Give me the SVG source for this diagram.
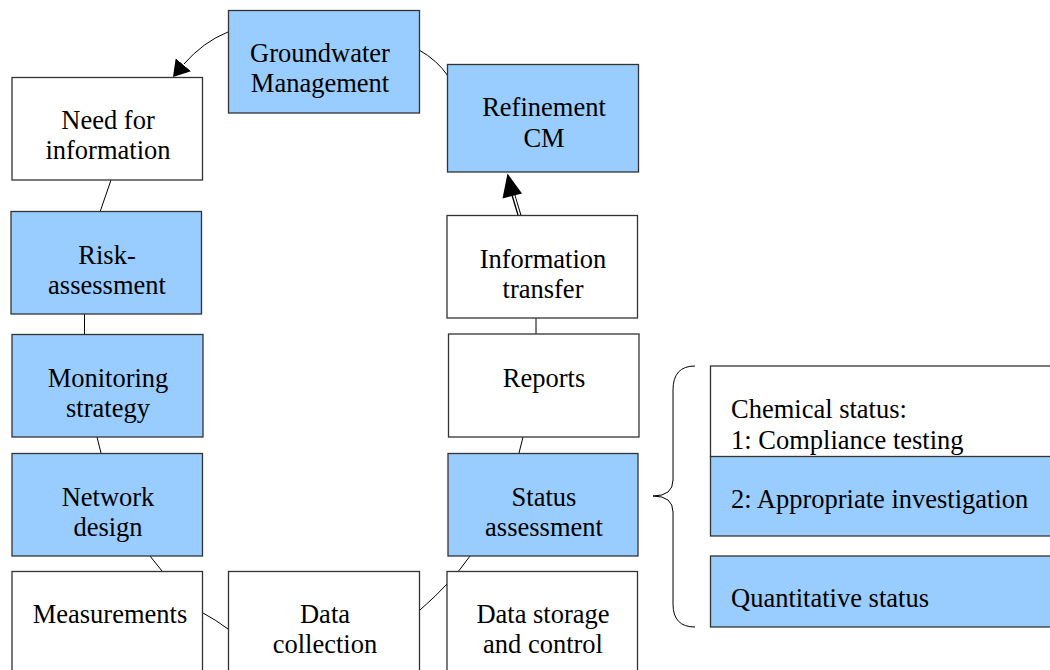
<svg xmlns="http://www.w3.org/2000/svg" width="1050" height="670" viewBox="0 0 1050 670">
<style>
.b{fill:#99CCFF;stroke:#333;stroke-width:1.3}
.w{fill:#fff;stroke:#333;stroke-width:1.3}
.t{font-family:"Liberation Serif","Times New Roman",serif;font-size:26.5px;fill:#000;text-anchor:middle}
.l{font-family:"Liberation Serif","Times New Roman",serif;font-size:26.5px;fill:#000}
.c{fill:none;stroke:#000;stroke-width:1}
</style>
<defs>
<marker id="ah" markerWidth="16" markerHeight="20" refX="16" refY="10" orient="auto" markerUnits="userSpaceOnUse">
<path d="M0,0 L16,10 L0,20 Z" fill="#000"/>
</marker>
</defs>
<rect width="1050" height="670" fill="#fff"/>
<g id="connectors">
<path class="c" d="M228,32 Q203,42 184,64"/>
<path d="M184,64 L173,77" fill="none" stroke="none" marker-end="url(#ah)"/>
<path class="c" d="M419,50 Q437,60 448,76"/>
<line class="c" x1="111" y1="180" x2="100" y2="212"/>
<line class="c" x1="84.5" y1="314" x2="84.5" y2="334"/>
<line class="c" x1="97" y1="437" x2="101" y2="453"/>
<line class="c" x1="150" y1="556" x2="162" y2="571"/>
<path class="c" d="M203,613 Q216,620 228,629"/>
<path class="c" d="M470,556 Q452,582 420,610"/>
<line class="c" x1="523" y1="437" x2="519" y2="453"/>
<line class="c" x1="536" y1="318" x2="536" y2="334"/>
<path class="c" d="M695,366 Q673,366 673,390 L673,480 Q673,496 653,496 Q673,496 673,512 L673,604 Q673,627 695,627"/>
<line x1="519.5" y1="215.5" x2="513" y2="194" stroke="#000" stroke-width="4"/>
<line x1="519.5" y1="215" x2="513" y2="193" stroke="#fff" stroke-width="1.6"/>
<path d="M507.5,173.5 L522,193.5 L502.5,198.5 Z" fill="#000"/>
</g>
<g id="groundwater"><rect class="b" x="228.5" y="10.5" width="191" height="102.5"/><text class="t" x="320" y="62">Groundwater</text><text class="t" x="320" y="92">Management</text></g>
<g id="refinement"><rect class="b" x="447.5" y="64.5" width="191" height="107.5"/><text class="t" x="544" y="116">Refinement</text><text class="t" x="544" y="147">CM</text></g>
<g id="need"><rect class="w" x="12" y="77.5" width="190.5" height="102.5"/><text class="t" x="108" y="128.5">Need for</text><text class="t" x="108" y="158.5">information</text></g>
<g id="risk"><rect class="b" x="11" y="211.5" width="190.5" height="102.5"/><text class="t" x="107" y="264">Risk-</text><text class="t" x="107" y="293.5">assessment</text></g>
<g id="monitoring"><rect class="b" x="12" y="334.5" width="191" height="102.5"/><text class="t" x="108" y="386.5">Monitoring</text><text class="t" x="108" y="416.5">strategy</text></g>
<g id="network"><rect class="b" x="12" y="453.5" width="190.5" height="102.5"/><text class="t" x="108" y="506">Network</text><text class="t" x="108" y="536">design</text></g>
<g id="measurements"><rect class="w" x="12" y="571.5" width="190.5" height="110"/><text class="t" x="110" y="622.5">Measurements</text></g>
<g id="datacollection"><rect class="w" x="228.5" y="571.5" width="191" height="110"/><text class="t" x="325" y="623">Data</text><text class="t" x="325" y="653">collection</text></g>
<g id="datastorage"><rect class="w" x="447" y="571.5" width="190.5" height="110"/><text class="t" x="543" y="623">Data storage</text><text class="t" x="543" y="653">and control</text></g>
<g id="status"><rect class="b" x="448" y="453.5" width="190" height="102.5"/><text class="t" x="544" y="506">Status</text><text class="t" x="544" y="536">assessment</text></g>
<g id="reports"><rect class="w" x="448.5" y="334" width="190.5" height="103"/><text class="t" x="544" y="387">Reports</text></g>
<g id="infotransfer"><rect class="w" x="447" y="215.5" width="190.5" height="102.5"/><text class="t" x="543" y="268">Information</text><text class="t" x="543" y="298">transfer</text></g>
<g id="chemical"><rect class="w" x="710.5" y="366" width="350" height="91"/><text class="l" x="731" y="418">Chemical status:</text><text class="l" x="731" y="449">1: Compliance testing</text></g>
<g id="appropriate"><rect class="b" x="710.5" y="456.5" width="350" height="79.5"/><text class="l" x="731" y="508">2: Appropriate investigation</text></g>
<g id="quantitative"><rect class="b" x="710.5" y="556" width="350" height="71"/><text class="l" x="731" y="607">Quantitative status</text></g>
</svg>
